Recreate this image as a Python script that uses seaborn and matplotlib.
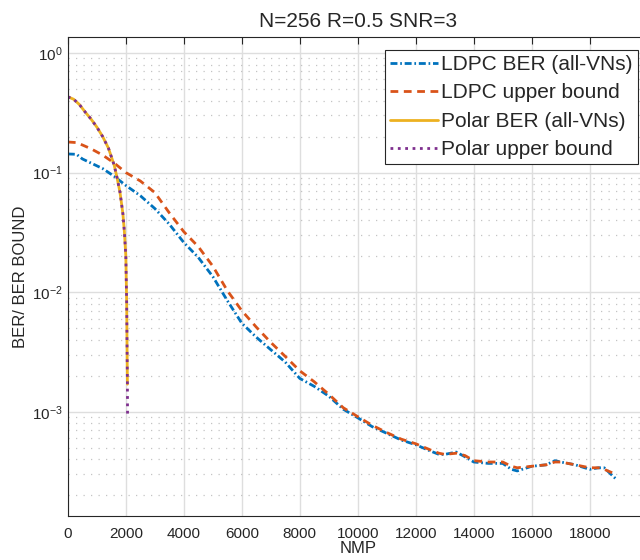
import numpy as np
import pandas as pd
import matplotlib
matplotlib.use("Agg")
import matplotlib.pyplot as plt
import seaborn as sns
from matplotlib.ticker import LogLocator, NullFormatter

# values
ldpc_nmp = [0, 300, 500, 800, 1200, 1600, 2000, 2500, 3000, 3500, 4000, 4500,
            5000, 5500, 6000, 6500, 7000, 7500, 8000, 8500, 9000, 9500, 10000,
            10500, 11000, 11500, 12000, 12500, 12800, 13000, 13400, 13700,
            14000, 14500, 15000, 15300, 15500, 16000, 16500, 16800, 17000,
            17500, 18000, 18300, 18500, 18900]
ldpc_ber = [0.143, 0.142, 0.13, 0.12, 0.108, 0.093, 0.078, 0.064, 0.05, 0.037,
            0.026, 0.0195, 0.0135, 0.0085, 0.0055, 0.0042, 0.0033, 0.0026, 0.0019,
            0.00163, 0.00135, 0.00105, 0.00089, 0.00075, 0.00066, 0.00058,
            0.00053, 0.00047, 0.00044, 0.00044, 0.00046, 0.00042, 0.00038,
            0.00037, 0.00037, 0.00033, 0.00032, 0.00035, 0.00036, 0.00039,
            0.00038, 0.00036, 0.00033, 0.00034, 0.00034, 0.000275]
ldpc_ub = [0.18, 0.178, 0.17, 0.158, 0.14, 0.12, 0.1, 0.085, 0.068, 0.046,
           0.032, 0.024, 0.0165, 0.0103, 0.007, 0.0051, 0.0038, 0.0029, 0.0022,
           0.00178, 0.0014, 0.00108, 0.00091, 0.00077, 0.00067, 0.00059,
           0.00054, 0.00048, 0.00045, 0.00044, 0.00045, 0.00043, 0.00039,
           0.00038, 0.00038, 0.00035, 0.00034, 0.00035, 0.00036, 0.00038,
           0.00038, 0.00036, 0.00034, 0.00034, 0.00033, 0.0003]

polar_nmp = [0, 200, 400, 600, 800, 1000, 1200, 1400, 1600, 1700, 1800, 1900,
             1950, 2000, 2030, 2045, 2055]
polar_ber = [0.43, 0.41, 0.37, 0.32, 0.28, 0.24, 0.2, 0.16, 0.115, 0.09, 0.068,
             0.045, 0.032, 0.02, 0.008, 0.003, 0.0017]
polar_ub_nmp = polar_nmp + [2060]
polar_ub = polar_ber + [0.0009]

sns.set_style("whitegrid")
plt.rcParams["font.family"] = ["Liberation Sans", "DejaVu Sans"]

fig = plt.figure(figsize=(6.4, 5.6), dpi=100)
ax = fig.add_axes([0.106, 0.079, 0.906, 0.855])

sns.lineplot(x=ldpc_nmp, y=ldpc_ber, ax=ax, color="#0072BD",
             dashes=(2.5, 1, 0.6, 1), linewidth=2, label="LDPC BER (all-VNs)")
sns.lineplot(x=ldpc_nmp, y=ldpc_ub, ax=ax, color="#D95319",
             dashes=(2.8, 2), linewidth=2, label="LDPC upper bound")
sns.lineplot(x=polar_nmp, y=polar_ber, ax=ax, color="#EDB120", linestyle="-",
             linewidth=2, label="Polar BER (all-VNs)")
sns.lineplot(x=polar_ub_nmp, y=polar_ub, ax=ax, color="#7E2F8E", linestyle=":",
             linewidth=2, label="Polar upper bound")

ax.set_yscale("log")
ax.set_xlim(0, 20000)
ax.set_ylim(1.35e-4, 1.36)
ax.set_xticks(range(0, 18001, 2000))
ax.yaxis.set_major_locator(LogLocator(base=10))
ax.yaxis.set_minor_locator(LogLocator(base=10, subs=np.arange(2, 10)))
ax.yaxis.set_minor_formatter(NullFormatter())

ax.grid(True, which="major", color="#dedede", linewidth=1.0, linestyle="-")
ax.grid(True, which="minor", axis="y", color="#c4c4c4", linewidth=0.9,
        linestyle=(0, (1, 5)))
ax.set_axisbelow(True)
for s in ["left", "bottom", "top"]:
    ax.spines[s].set_color("#262626")
    ax.spines[s].set_linewidth(0.8)
ax.spines["right"].set_visible(False)
ax.tick_params(which="both", direction="in", top=True, right=False,
               labelsize=11, colors="#262626")
ax.tick_params(which="major", length=5)
ax.tick_params(which="minor", length=3)
ax.tick_params(axis="x", which="major", pad=8)

ax.set_title("N=256 R=0.5 SNR=3", fontsize=15, pad=7)
ax.set_xlabel("NMP", fontsize=12, labelpad=0)
ax.set_ylabel("BER/ BER BOUND", fontsize=12, labelpad=3)

leg = ax.legend(loc="upper right", bbox_to_anchor=(0.983, 0.973),
                borderaxespad=0, fontsize=15, frameon=True, fancybox=False,
                handlelength=2.3, handletextpad=0.15, borderpad=0.25,
                labelspacing=0.45)
leg.get_frame().set_edgecolor("#262626")
leg.get_frame().set_linewidth(0.8)
leg.get_frame().set_alpha(1)

fig.savefig("out.png", dpi=100)
